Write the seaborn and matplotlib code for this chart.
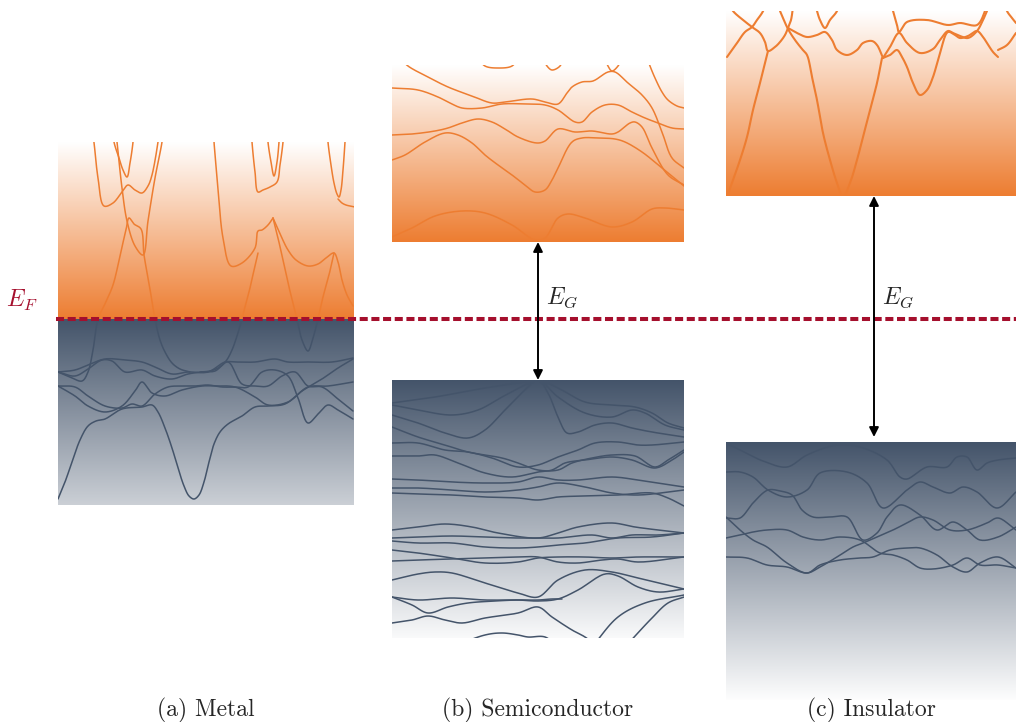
import numpy as np
import pandas as pd
import matplotlib
matplotlib.use("Agg")
import matplotlib.pyplot as plt
import seaborn as sns
from matplotlib.patches import Rectangle
from matplotlib.colors import to_rgb

# ---------------------------------------------------------------------------
# Band structure sketches: each band is (k positions, energy positions) in the
# drawing frame (k grows to the right, energy grows downward on the canvas).
# ---------------------------------------------------------------------------
E_FERMI = 319

# (a) Metal - bands cross the Fermi level
metal_bands = [
    ([92, 94, 98, 104, 113, 122, 128, 135, 142, 148, 152, 158, 160],
     [125, 142, 178, 206, 203, 192, 185, 190, 193, 186, 175, 142, 125]),
    ([112, 114, 119, 123, 127, 130, 133, 134], [125, 142, 158, 170, 177, 163, 142, 125]),
    ([115, 117, 122, 127, 135, 143, 148, 155, 162, 164], [125, 142, 188, 221, 246, 255, 221, 178, 142, 125]),
    ([58, 70, 82, 88, 93, 98, 104, 113, 121, 126, 129, 134, 141, 144, 149, 155, 160, 165, 172, 180, 190],
     [372, 377, 381, 372, 350, 319, 306, 285, 251, 230, 218, 224, 229, 255, 283, 319, 340, 352, 363, 369, 372]),
    ([213, 214, 218, 223, 231, 242, 255, 258, 262, 268, 273], [125, 142, 188, 238, 266, 263, 248, 231, 230, 225, 218]),
    ([251, 252, 255, 258, 263, 270, 277, 280, 283, 284], [125, 142, 172, 192, 190, 187, 182, 165, 142, 125]),
    ([267, 268, 271, 274, 277, 279, 280], [125, 142, 162, 176, 162, 142, 125]),
    ([273, 281, 288, 296, 308, 318, 326, 334, 338, 342, 347, 353], [218, 236, 250, 260, 266, 264, 258, 253, 262, 280, 295, 306]),
    ([273, 278, 283, 288, 293, 297, 302, 308, 313, 318, 323, 329, 334], [218, 238, 260, 283, 303, 319, 340, 351, 338, 319, 297, 275, 253]),
    ([327, 328, 331, 334, 337, 339, 341, 343, 345, 346], [125, 142, 165, 183, 194, 197, 190, 170, 142, 125]),
    ([338, 342, 346, 350, 355], [199, 203, 205, 206, 207]),
    ([258, 254, 250, 246, 242, 237, 232, 226, 218, 210, 200], [253, 270, 288, 303, 319, 336, 350, 361, 368, 371, 372]),
    ([58, 65, 72, 80, 88, 96, 105, 122, 142, 152, 158, 165, 172, 178, 184, 189, 194, 199, 204, 209, 214, 220, 228, 242, 255, 268, 285, 302, 322, 338, 353],
     [499, 482, 462, 440, 426, 421, 419, 409, 407, 405, 412, 428, 448, 468, 486, 496, 499, 495, 482, 462, 444, 432, 424, 416, 407, 406, 404, 391, 379, 368, 359]),
    ([58, 75, 88, 105, 125, 142, 155, 172, 188, 208, 225, 235, 255, 275, 288, 308, 332, 353],
     [372, 370, 365, 359, 360, 362, 367, 374, 372, 372, 362, 362, 362, 359, 362, 362, 362, 358]),
    ([58, 75, 88, 105, 122, 135, 142, 152, 165, 182, 202, 215, 235, 255, 268, 288, 308, 328, 353],
     [386, 396, 406, 412, 406, 391, 382, 393, 396, 390, 386, 386, 387, 397, 405, 402, 387, 386, 382]),
    ([58, 75, 88, 102, 112, 125, 142, 155, 172, 188, 202, 215, 228, 242, 255, 268, 282, 295, 308, 322, 338, 353],
     [372, 376, 369, 360, 361, 372, 370, 376, 379, 374, 372, 371, 362, 384, 386, 386, 376, 372, 386, 387, 399, 411]),
    ([58, 75, 88, 105, 122, 132, 142, 155, 168, 182, 195, 208, 222, 235, 248, 262, 275, 288, 298, 308, 318, 328, 338, 353],
     [386, 387, 396, 406, 408, 404, 406, 394, 387, 386, 386, 385, 387, 387, 387, 372, 370, 376, 398, 423, 414, 405, 410, 419]),
]

# (b) Semiconductor - conduction bands
semi_conduction = [
    ([392, 418, 438, 450, 462, 482, 502, 525, 545, 558, 575, 582, 592, 605, 618, 632, 645, 658, 672, 684],
     [88, 90, 97, 103, 108, 108, 104, 104, 105, 110, 122, 122, 112, 105, 105, 112, 118, 123, 128, 129]),
    ([400, 408, 428, 448, 472, 492, 505, 532, 545, 558, 567, 572, 582, 593, 608, 615, 628, 642, 652, 662, 672, 684],
     [58, 66, 77, 87, 96, 103, 102, 99, 102, 104, 93, 87, 82, 81, 72, 72, 83, 95, 108, 132, 158, 168]),
    ([646, 650, 655, 662, 668, 677, 684], [55, 66, 78, 92, 100, 106, 108]),
    ([392, 412, 435, 448, 462, 478, 492, 505, 518, 537, 545, 558, 575, 592, 612, 618, 630, 635, 642, 652, 668, 684],
     [135, 134, 131, 128, 123, 119, 122, 129, 137, 143, 141, 129, 132, 131, 134, 132, 123, 122, 127, 148, 175, 185]),
    ([392, 405, 425, 445, 458, 472, 485, 498, 512, 525, 535, 545, 552, 558, 572, 582, 598, 615, 625, 642, 662, 684],
     [160, 155, 142, 133, 135, 143, 155, 165, 175, 185, 192, 190, 180, 168, 142, 138, 138, 139, 142, 152, 168, 186]),
    ([392, 412, 435, 462, 485, 512, 535, 545, 558, 568, 585, 612, 632, 652, 665, 684],
     [237, 228, 216, 211, 213, 225, 240, 238, 218, 214, 218, 227, 222, 209, 208, 210]),
    ([478, 485, 498, 512, 518], [58, 66, 68, 66, 58]),
    ([543, 547, 552, 560, 563], [58, 66, 70, 66, 58]),
    ([605, 608, 612, 618, 622], [58, 66, 71, 66, 58]),
]

# (b) Semiconductor - valence bands
semi_valence = [
    ([392, 435, 485, 518, 538, 558, 585, 612, 635, 652, 668, 684], [403, 397, 388, 383, 380, 388, 402, 405, 407, 413, 423, 428]),
    ([392, 418, 452, 478, 502, 525, 538, 548, 558, 567, 578, 595, 612, 632, 652, 684],
     [405, 410, 415, 410, 397, 385, 380, 393, 417, 433, 432, 425, 423, 428, 432, 437]),
    ([392, 418, 445, 468, 485, 505, 525, 538, 558, 585, 612, 632, 645, 665, 684],
     [415, 423, 433, 438, 430, 410, 390, 380, 397, 413, 417, 410, 413, 425, 430]),
    ([392, 418, 445, 468, 502, 518, 538, 558, 572, 592, 612, 635, 655, 668, 684],
     [427, 437, 445, 452, 458, 463, 470, 470, 463, 458, 455, 456, 467, 460, 450]),
    ([392, 418, 445, 468, 492, 518, 538, 558, 578, 595, 618, 638, 652, 684],
     [443, 443, 450, 452, 458, 467, 465, 457, 450, 443, 442, 445, 445, 442]),
    ([392, 418, 435, 458, 485, 512, 538, 552, 565, 585, 612, 632, 655, 672, 684],
     [456, 456, 455, 463, 473, 477, 472, 470, 463, 460, 457, 460, 468, 460, 452]),
    ([392, 418, 452, 485, 518, 538, 558, 578, 612, 638, 684], [479, 480, 482, 483, 482, 477, 480, 480, 477, 480, 487]),
    ([392, 418, 452, 485, 518, 538, 558, 585, 612, 638, 684], [488, 488, 490, 492, 490, 487, 483, 487, 493, 495, 490]),
    ([392, 418, 452, 485, 518, 538, 558, 585, 618, 652, 668, 684], [493, 494, 495, 497, 498, 500, 497, 496, 495, 493, 498, 506]),
    ([392, 418, 445, 472, 498, 538, 558, 578, 612, 635, 658, 684], [530, 527, 524, 527, 533, 538, 533, 527, 523, 527, 530, 533]),
    ([392, 418, 452, 485, 518, 538, 558, 592, 612, 632, 658, 684], [538, 537, 536, 537, 538, 538, 538, 535, 538, 535, 535, 533]),
    ([392, 418, 452, 485, 518, 538, 558, 585, 618, 652, 684], [541, 543, 543, 547, 548, 547, 545, 543, 538, 537, 533]),
    ([392, 418, 452, 485, 518, 538, 558, 585, 612, 638, 684], [550, 553, 558, 563, 562, 558, 557, 557, 558, 557, 557]),
    ([392, 418, 452, 485, 518, 538, 558, 578, 602, 618, 638, 684], [561, 560, 559, 558, 557, 557, 562, 563, 560, 559, 562, 557]),
    ([392, 418, 435, 452, 485, 518, 538, 558, 585, 612, 638, 684], [580, 574, 572, 573, 583, 593, 597, 580, 570, 572, 578, 589]),
    ([392, 418, 452, 485, 518, 538, 558, 578, 605, 618, 638, 658, 684], [597, 600, 598, 600, 600, 601, 599, 590, 574, 576, 587, 592, 589]),
    ([392, 412, 428, 448, 468, 495, 518, 538, 552, 562], [597, 605, 613, 607, 603, 601, 600, 600, 599, 599]),
    ([392, 412, 428, 445, 462, 485, 518, 538, 552, 572, 585, 598], [623, 620, 616, 620, 623, 618, 613, 607, 617, 630, 637, 647]),
    ([452, 485, 502, 518, 528, 545, 558], [647, 635, 633, 635, 637, 637, 647]),
    ([592, 618, 645, 684], [647, 617, 603, 595]),
    ([625, 652, 668, 684], [647, 618, 603, 597]),
]

# (c) Insulator - conduction bands
ins_conduction = [
    ([727, 737, 745, 752, 757, 762, 765], [57, 43, 32, 27, 20, 13, 7]),
    ([730, 733, 743, 752, 760, 765, 768, 775, 780, 785, 788, 791, 793], [5, 11, 20, 27, 33, 42, 51, 47, 42, 35, 28, 20, 7]),
    ([727, 733, 740, 747, 753, 760, 765, 768], [197, 180, 160, 137, 110, 83, 63, 51]),
    ([780, 788, 795, 802, 807, 812, 817, 823, 830, 837, 843, 850, 857, 863, 870, 877, 882],
     [11, 29, 40, 49, 55, 77, 100, 133, 160, 183, 197, 183, 160, 137, 110, 83, 58]),
    ([788, 797, 807, 817, 825, 832, 837, 847, 857, 863, 872, 877, 883], [28, 33, 37, 35, 32, 40, 50, 55, 50, 43, 41, 45, 58]),
    ([883, 890, 897, 902, 907, 913, 920, 927, 933, 940, 948, 955, 960, 968, 977, 983, 987, 993, 998],
     [58, 55, 50, 57, 67, 83, 95, 90, 77, 53, 32, 35, 38, 36, 31, 37, 43, 52, 57]),
    ([883, 890, 899, 907, 920, 933, 940, 948, 953, 960, 968, 977, 983, 987], [58, 47, 33, 43, 53, 49, 40, 31, 33, 36, 38, 31, 20, 11]),
    ([890, 893, 897, 899, 907, 927, 948, 960, 977, 985, 988], [0, 11, 25, 32, 22, 20, 25, 23, 25, 11, 0]),
    ([814, 817, 820, 825, 830, 837, 840], [0, 11, 20, 28, 20, 11, 0]),
    ([998, 1007, 1016], [50, 45, 33]),
    ([1004, 1007, 1012, 1016], [0, 11, 18, 23]),
]

# (c) Insulator - valence bands
ins_valence = [
    ([726, 740, 763, 787, 807, 837, 860, 887, 900, 907, 927, 947, 957, 967, 977, 987, 998, 1016],
     [443, 450, 461, 467, 455, 445, 447, 460, 477, 479, 467, 467, 457, 457, 470, 463, 460, 458]),
    ([726, 740, 753, 768, 787, 807, 820, 847, 867, 883, 907, 920, 933, 950, 963, 977, 997, 1016],
     [472, 472, 477, 490, 497, 490, 473, 472, 483, 508, 490, 482, 487, 493, 487, 492, 508, 492]),
    ([726, 740, 753, 768, 780, 792, 802, 813, 830, 847, 863, 877, 887, 900, 920, 937, 953, 967, 980, 998, 1016],
     [518, 518, 503, 490, 491, 495, 510, 517, 517, 517, 540, 533, 517, 505, 515, 530, 522, 530, 540, 537, 527]),
    ([726, 740, 753, 767, 787, 807, 820, 840, 860, 873, 890, 907, 920, 937, 953, 967, 980, 998, 1016],
     [517, 530, 540, 547, 563, 573, 565, 560, 558, 557, 550, 548, 548, 555, 567, 572, 563, 557, 568]),
    ([726, 740, 753, 767, 787, 803, 820, 840, 860, 880, 893, 907, 920, 933, 953, 967, 980, 998, 1016],
     [538, 535, 532, 530, 530, 537, 540, 537, 540, 553, 555, 560, 568, 569, 565, 558, 565, 565, 568]),
    ([726, 747, 767, 787, 807, 820, 837, 853, 863, 877, 893, 907, 920, 933, 950, 967, 987, 998, 1016],
     [557, 558, 565, 567, 573, 567, 557, 547, 543, 537, 530, 523, 517, 520, 530, 530, 523, 518, 530]),
]

captions = ["(a) Metal", "(b) Semiconductor", "(c) Insulator"]

# ---------------------------------------------------------------------------
# Layout of the band blocks: (left, right, top, bottom) on the canvas
# ---------------------------------------------------------------------------
METAL_CB = (58, 354, 142, E_FERMI)
METAL_VB = (58, 354, E_FERMI, 505)
SEMI_CB = (392, 684, 65, 242)
SEMI_VB = (392, 684, 380, 638)
INS_CB = (726, 1016, 11, 196)
INS_VB = (726, 1016, 442, 700)
VB_SPAN = 258  # depth over which the valence shading fades to white

ORANGE = "#ED7D31"
SLATE = "#44546A"
RED = "#A50F2D"

sns.set_theme(style="white")
plt.rcParams["mathtext.fontset"] = "cm"
plt.rcParams["font.family"] = ["cmr10", "DejaVu Serif"]
plt.rcParams["axes.formatter.use_mathtext"] = True

fig = plt.figure(figsize=(10.16, 7.22), dpi=100)
ax = fig.add_axes([0, 0, 1, 1])


def shade(box, top_color, bottom_color, frac=1.0):
    x0, x1, y0, y1 = box
    t = np.linspace(0, frac, 256)[:, None]
    rgb = (1 - t) * np.array(to_rgb(top_color)) + t * np.array(to_rgb(bottom_color))
    ax.imshow(rgb[:, None, :], extent=(x0, x1, y1, y0), origin="upper",
              aspect="auto", interpolation="bilinear", zorder=1)


def smooth(xs, ys, n=14):
    """Centripetal Catmull-Rom path through the given points."""
    P = np.column_stack([xs, ys]).astype(float)
    P = np.vstack([2 * P[0] - P[1], P, 2 * P[-1] - P[-2]])
    out = []
    for i in range(1, len(P) - 2):
        p0, p1, p2, p3 = P[i - 1], P[i], P[i + 1], P[i + 2]
        d = lambda a, b: max(np.linalg.norm(b - a) ** 0.5, 1e-6)
        t0 = 0.0
        t1 = t0 + d(p0, p1)
        t2 = t1 + d(p1, p2)
        t3 = t2 + d(p2, p3)
        t = np.linspace(t1, t2, n, endpoint=False)[:, None]
        a1 = (t1 - t) / (t1 - t0) * p0 + (t - t0) / (t1 - t0) * p1
        a2 = (t2 - t) / (t2 - t1) * p1 + (t - t1) / (t2 - t1) * p2
        a3 = (t3 - t) / (t3 - t2) * p2 + (t - t2) / (t3 - t2) * p3
        b1 = (t2 - t) / (t2 - t0) * a1 + (t - t0) / (t2 - t0) * a2
        b2 = (t3 - t) / (t3 - t1) * a2 + (t - t1) / (t3 - t1) * a3
        out.append((t2 - t) / (t2 - t1) * b1 + (t - t1) / (t2 - t1) * b2)
    out.append(P[-2][None, :])
    path = np.vstack(out)
    return path[:, 0], path[:, 1]


def draw_bands(bands, color, box, lw=1.1):
    frames = []
    for i, (ks, es) in enumerate(bands):
        sk, se = smooth(ks, es)
        frames.append(pd.DataFrame({"k": sk, "E": se, "band": i}))
    df = pd.concat(frames, ignore_index=True)
    n0 = len(ax.lines)
    sns.lineplot(data=df, x="k", y="E", units="band", estimator=None, sort=False,
                 color=color, lw=lw, ax=ax, legend=False)
    x0, x1, y0, y1 = box
    clip = Rectangle((x0, y0), x1 - x0, y1 - y0, transform=ax.transData)
    for ln in ax.lines[n0:]:
        ln.set_clip_path(clip)
        ln.set_zorder(3)
        ln.set_solid_capstyle("round")


# shaded blocks
shade(METAL_CB, "#FFFFFF", ORANGE)
shade(METAL_VB, SLATE, "#FFFFFF", (METAL_VB[3] - METAL_VB[2]) / VB_SPAN)
shade(SEMI_CB, "#FFFFFF", ORANGE)
shade(SEMI_VB, SLATE, "#FFFFFF", 0.97)
shade(INS_CB, "#FFFFFF", ORANGE)
shade(INS_VB, SLATE, "#FFFFFF", 0.99)

# bands
draw_bands(metal_bands, ORANGE, METAL_CB)
draw_bands(metal_bands, SLATE, METAL_VB)
draw_bands(semi_conduction, ORANGE, SEMI_CB)
draw_bands(semi_valence, SLATE, SEMI_VB)
draw_bands(ins_conduction, ORANGE, INS_CB, lw=1.5)
draw_bands(ins_valence, SLATE, INS_VB)

# Fermi level
ax.hlines(E_FERMI, METAL_CB[0] - 2, 1016, colors=RED, lw=2.9,
          linestyles=(0, (2.0, 0.9)), zorder=5)
ax.text(22, E_FERMI - 19, r"$E_F$", color=RED, fontsize=17, ha="center", va="center", zorder=6)

# band gaps
for cb, vb in [(SEMI_CB, SEMI_VB), (INS_CB, INS_VB)]:
    xc = (cb[0] + cb[1]) / 2 + (3 if cb is INS_CB else 0)
    ax.annotate("", xy=(xc, vb[2] - (5 if cb is INS_CB else 0)), xytext=(xc, cb[3]),
                arrowprops=dict(arrowstyle="<|-|>", color="black", lw=1.4,
                                mutation_scale=14, shrinkA=0, shrinkB=0),
                zorder=6)
    ax.text(xc + 8, E_FERMI - 21, r"$E_G$", fontsize=17, ha="left", va="center", zorder=6)

# captions
for box, label in zip([METAL_VB, SEMI_VB, INS_VB], captions):
    ax.text((box[0] + box[1]) / 2, 710, label, fontsize=17, ha="center", va="center")

ax.set_xlim(0, 1016)
ax.set_ylim(722, 0)
ax.axis("off")

fig.savefig("out.png", dpi=100)
